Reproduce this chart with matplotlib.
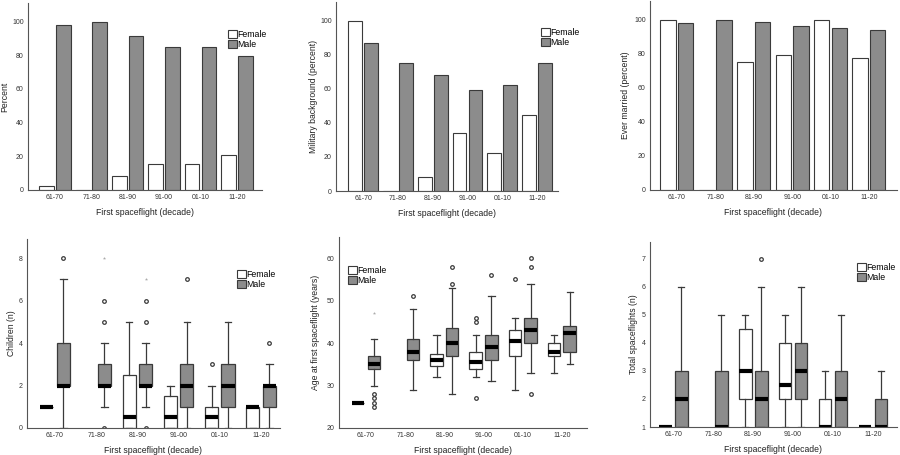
import matplotlib
matplotlib.use("Agg")
import matplotlib.pyplot as plt
import numpy as np
from matplotlib.patches import Patch

plt.rcParams["font.family"] = ["Liberation Sans", "DejaVu Sans"]

DECADES = ["61-70", "71-80", "81-90", "91-00", "01-10", "11-20"]

# ── Bar panels (percent) ─────────────────────────────────────────────────────
percent_f = [2.3, 0, 8.5, 15.3, 15.3, 20.5]
percent_m = [97.7, 100, 91.5, 84.7, 84.7, 79.5]

military_f = [100, 0, 8.5, 33.8, 22.5, 44.8]
military_m = [87.2, 75.3, 68.3, 59.3, 62.2, 75.3]

married_f = [100, 0, 75.0, 79.3, 100, 77.8]
married_m = [97.9, 100, 98.4, 96.3, 94.9, 94.2]

# ── Box panels: (whislo, q1, median, q3, whishi), None = no data ─────────────
children_f = [(1, 1, 1, 1, 1), None, (0, 0, 0.5, 2.5, 5), (0, 0, 0.5, 1.5, 2),
              (0, 0, 0.5, 1, 2), (0, 0, 1, 1, 1)]
children_m = [(0, 2, 2, 4, 7), (1, 2, 2, 3, 4), (1, 2, 2, 3, 4), (0, 1, 2, 3, 5),
              (0, 1, 2, 3, 5), (0, 1, 2, 2, 3)]
children_f_out = [[], [], [], [], [3], []]
children_m_out = [[8], [0, 5, 6], [0, 5, 6], [7], [], [4]]
children_m_ext = [[], [8], [7], [], [], []]

age_f = [(26, 26, 26, 26, 26), None, (32, 34.5, 36, 37.5, 42), (32, 34, 35.5, 38, 42),
         (29, 37, 40.5, 43, 46), (33, 37, 38, 40, 42)]
age_m = [(30, 34, 35, 37, 41), (29, 36, 38, 41, 48), (28, 37, 40, 43.5, 53),
         (31, 36, 39, 42, 51), (33, 40, 43, 46, 54), (35, 38, 42.5, 44, 52)]
age_f_out = [[], [], [], [27, 45, 46], [55], []]
age_m_out = [[25, 26, 27, 28], [51], [54, 58], [56], [28, 58, 60], []]
age_m_ext = [[47], [], [], [], [], []]

flights_f = [(1, 1, 1, 1, 1), None, (1, 2, 3, 4.5, 5), (1, 2, 2.5, 4, 5),
             (1, 1, 1, 2, 3), (1, 1, 1, 1, 1)]
flights_m = [(1, 1, 2, 3, 6), (1, 1, 1, 3, 5), (1, 1, 2, 3, 6), (1, 2, 3, 4, 6),
             (1, 1, 2, 3, 5), (1, 1, 1, 2, 3)]
flights_f_out = [[], [], [], [], [], []]
flights_m_out = [[], [], [7], [], [], []]
flights_m_ext = [[], [], [], [], [], []]

GRAY = "#8c8c8c"
EDGE = "#3a3a3a"
FS_TICK = 5
FS_LABEL = 6.2

W, H = 900, 455
fig = plt.figure(figsize=(W / 100, H / 100), dpi=100)


def _axes(x0, x1, y_top, y_bot):
    return fig.add_axes([x0 / W, (H - y_bot) / H, (x1 - x0) / W, (y_bot - y_top) / H])


def _style(ax, ylabel, xlim, label_x):
    for s in ("top", "right"):
        ax.spines[s].set_visible(False)
    for s in ("left", "bottom"):
        ax.spines[s].set_color("#555555")
        ax.spines[s].set_linewidth(0.8)
    ax.set_xticks(range(len(DECADES)))
    ax.set_xticklabels(DECADES)
    ax.tick_params(length=0, labelsize=FS_TICK, pad=3, colors="#333333")
    ax.set_xlim(*xlim)
    ax.set_xlabel("First spaceflight (decade)", fontsize=FS_LABEL, labelpad=5, color="#222222")
    ax.set_ylabel(ylabel, fontsize=FS_LABEL, color="#222222", va="center")
    # place the y label centre at the reference's pixel column
    bb = ax.get_position()
    ax.yaxis.set_label_coords((label_x / W - bb.x0) / bb.width, 0.5)


def _legend(x, y):
    handles = [Patch(facecolor="white", edgecolor=EDGE, linewidth=0.8, label="Female"),
               Patch(facecolor=GRAY, edgecolor=EDGE, linewidth=0.8, label="Male")]
    fig.legend(handles=handles, loc="upper left", bbox_to_anchor=(x / W, 1 - y / H),
               frameon=False, fontsize=6.3, handlelength=1.0, handleheight=1.0,
               handletextpad=0.05, labelspacing=0.1, borderpad=0, borderaxespad=0)


def bar_panel(ax, fem, male, ylabel, xlim, label_x, width=0.4):
    x = np.arange(len(DECADES))
    off = width / 2 + 0.03
    ax.bar(x - off, fem, width, color="white", edgecolor=EDGE, linewidth=0.8)
    ax.bar(x + off, male, width, color=GRAY, edgecolor=EDGE, linewidth=0.8)
    ax.set_ylim(0, 111)
    ax.set_yticks([0, 20, 40, 60, 80, 100])
    _style(ax, ylabel, xlim, label_x)


def _stats(rows, outs):
    stats, pos = [], []
    for i, r in enumerate(rows):
        if r is None:
            continue
        lo, q1, med, q3, hi = r
        stats.append(dict(whislo=lo, q1=q1, med=med, q3=q3, whishi=hi, fliers=outs[i]))
        pos.append(i)
    return stats, pos


def box_panel(ax, fem, male, f_out, m_out, m_ext, ylabel, xlim, ylim, yticks, label_x,
              width=0.32, off=0.2):
    for rows, outs, fc, sign in ((fem, f_out, "white", -1), (male, m_out, GRAY, 1)):
        stats, pos = _stats(rows, outs)
        ax.bxp(stats, positions=np.array(pos) + sign * off, widths=width,
               patch_artist=True, showfliers=True, capwidths=width / 2,
               boxprops=dict(facecolor=fc, edgecolor=EDGE, linewidth=0.9),
               whiskerprops=dict(color=EDGE, linewidth=0.9),
               capprops=dict(color=EDGE, linewidth=0.9),
               medianprops=dict(color="black", linewidth=3, solid_capstyle="butt"),
               flierprops=dict(marker="o", markersize=2.6, markerfacecolor="none",
                               markeredgecolor=EDGE, markeredgewidth=0.9))
    for i, vals in enumerate(m_ext):
        if vals:
            ax.scatter([i + off] * len(vals), vals, marker="*", s=6, color="#aaaaaa",
                       linewidths=0, zorder=3)
    ax.set_ylim(*ylim)
    ax.set_yticks(yticks)
    _style(ax, ylabel, xlim, label_x)


# top row
ax1 = _axes(28, 262, 3, 190)
bar_panel(ax1, percent_f, percent_m, "Percent", (-0.74, 5.69), 5)
ax2 = _axes(336, 558, 2, 191)
bar_panel(ax2, military_f, military_m, "Military background (percent)", (-0.78, 5.6), 313)
ax3 = _axes(650, 897, 1, 190)
bar_panel(ax3, married_f, married_m, "Ever married (percent)", (-0.7, 5.73), 626)

# bottom row
ax4 = _axes(27, 280, 239, 428)
box_panel(ax4, children_f, children_m, children_f_out, children_m_out, children_m_ext,
          "Children (n)", (-0.68, 5.46), (0, 8.9), [0, 2, 4, 6, 8], 11)
ax5 = _axes(339, 587, 237, 428)
box_panel(ax5, age_f, age_m, age_f_out, age_m_out, age_m_ext,
          "Age at first spaceflight (years)", (-0.69, 5.64), (20, 65),
          [20, 30, 40, 50, 60], 315)
ax6 = _axes(650, 897, 242, 427)
box_panel(ax6, flights_f, flights_m, flights_f_out, flights_m_out, flights_m_ext,
          "Total spaceflights (n)", (-0.58, 5.6), (1, 7.6), [1, 2, 3, 4, 5, 6, 7], 633)

_legend(228, 30)
_legend(541, 28)
_legend(237, 270)
_legend(348, 266)
_legend(857, 263)

fig.savefig("out.png", dpi=100)
